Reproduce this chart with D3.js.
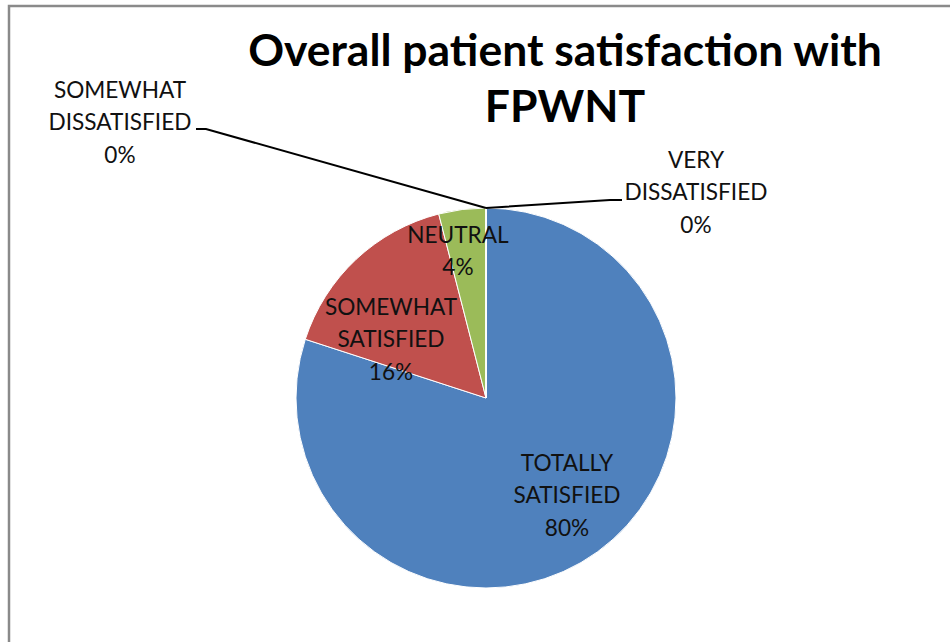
<!DOCTYPE html>
<html>
<head>
<meta charset="utf-8">
<script src="https://cdn.jsdelivr.net/npm/d3@7/dist/d3.min.js"></script>
<style>
  body { margin: 0; background: #fff; }
  svg { display: block; }
</style>
</head>
<body>
<svg id="chart" width="950" height="642"></svg>
<script>
// Data
var categories = ["TOTALLY SATISFIED", "SOMEWHAT SATISFIED", "NEUTRAL", "SOMEWHAT DISSATISFIED", "VERY DISSATISFIED"];
var labelLines = [["TOTALLY", "SATISFIED"], ["SOMEWHAT", "SATISFIED"], ["NEUTRAL"], ["SOMEWHAT", "DISSATISFIED"], ["VERY", "DISSATISFIED"]];
var values = [80, 16, 4, 0, 0];
var colors = ["#4F81BD", "#C0504D", "#9BBB59", "#8064A2", "#4BACC6"];
var titleLines = ["Overall patient satisfaction with", "FPWNT"];

var W = 950, H = 642;
var cx = 486, cy = 398, r = 190;
var font = "Lato, 'Open Sans', sans-serif";

var svg = d3.select("#chart");

// Frame (runs off the right and bottom edges)
svg.append("rect")
  .attr("x", 9)
  .attr("y", 6)
  .attr("width", W + 20)
  .attr("height", H + 20)
  .style("fill", "#fff")
  .style("stroke", "#8a8a8a")
  .style("stroke-width", 2.5);

// fit a font size so that a string has a given width
function fitSize(str, weight, target) {
  var t = svg.append("text")
    .style("font-family", font)
    .style("font-weight", weight)
    .style("font-size", "100px")
    .text(str);
  var w = t.node().getComputedTextLength();
  t.remove();
  return 100 * target / w;
}

var titleSize = fitSize(titleLines[0], "bold", 634);
var labelSize = fitSize("DISSATISFIED", "normal", 143);

// Title
svg.append("g")
  .attr("class", "title")
  .selectAll("text")
  .data(titleLines)
  .enter().append("text")
    .attr("x", 565)
    .attr("y", function(d, i) { return 66 + i * 56; })
    .attr("text-anchor", "middle")
    .style("font-family", font)
    .style("font-weight", "bold")
    .style("font-size", titleSize + "px")
    .style("fill", "#000")
    .text(function(d) { return d; });

// Pie
var pie = d3.pie().sort(null).value(function(d) { return d; });
var arcs = pie(values);
var arc = d3.arc().innerRadius(0).outerRadius(r);

var g = svg.append("g")
  .attr("transform", "translate(" + cx + "," + cy + ")");

g.selectAll("path.slice")
  .data(arcs)
  .enter().append("path")
    .attr("class", "slice")
    .attr("d", arc)
    .style("fill", function(d, i) { return colors[i]; })
    .style("stroke", "#fff")
    .style("stroke-width", 1);

// Label anchor positions (layout, center x and first baseline)
var labelPos = [
  [567, 471],
  [391, 315],
  [458, 243],
  [120, 98],
  [696, 168]
];

// Leader lines for the zero slices
var leaders = [
  { i: 3, end: [196, 129], knee: [206, 129] },
  { i: 4, end: [622, 200], knee: [610, 200] }
];

leaders.forEach(function(l) {
  var a = arcs[l.i].startAngle;
  var px = cx + r * Math.sin(a), py = cy - r * Math.cos(a);
  svg.append("path")
    .attr("d", d3.line()([[px, py], l.knee, l.end]))
    .style("fill", "none")
    .style("stroke", "#000")
    .style("stroke-width", 2);
});

// Labels
var fmt = d3.format(".0%");
var labels = svg.append("g").attr("class", "labels");
arcs.forEach(function(d, i) {
  var lines = labelLines[i].concat([fmt(values[i] / d3.sum(values))]);
  labels.append("text")
    .attr("text-anchor", "middle")
    .style("font-family", font)
    .style("font-size", labelSize + "px")
    .style("fill", "#111")
    .selectAll("tspan")
    .data(lines)
    .enter().append("tspan")
      .attr("x", labelPos[i][0])
      .attr("y", function(s, j) { return labelPos[i][1] + j * 32.3; })
      .text(function(s) { return s; });
});
</script>
</body>
</html>
